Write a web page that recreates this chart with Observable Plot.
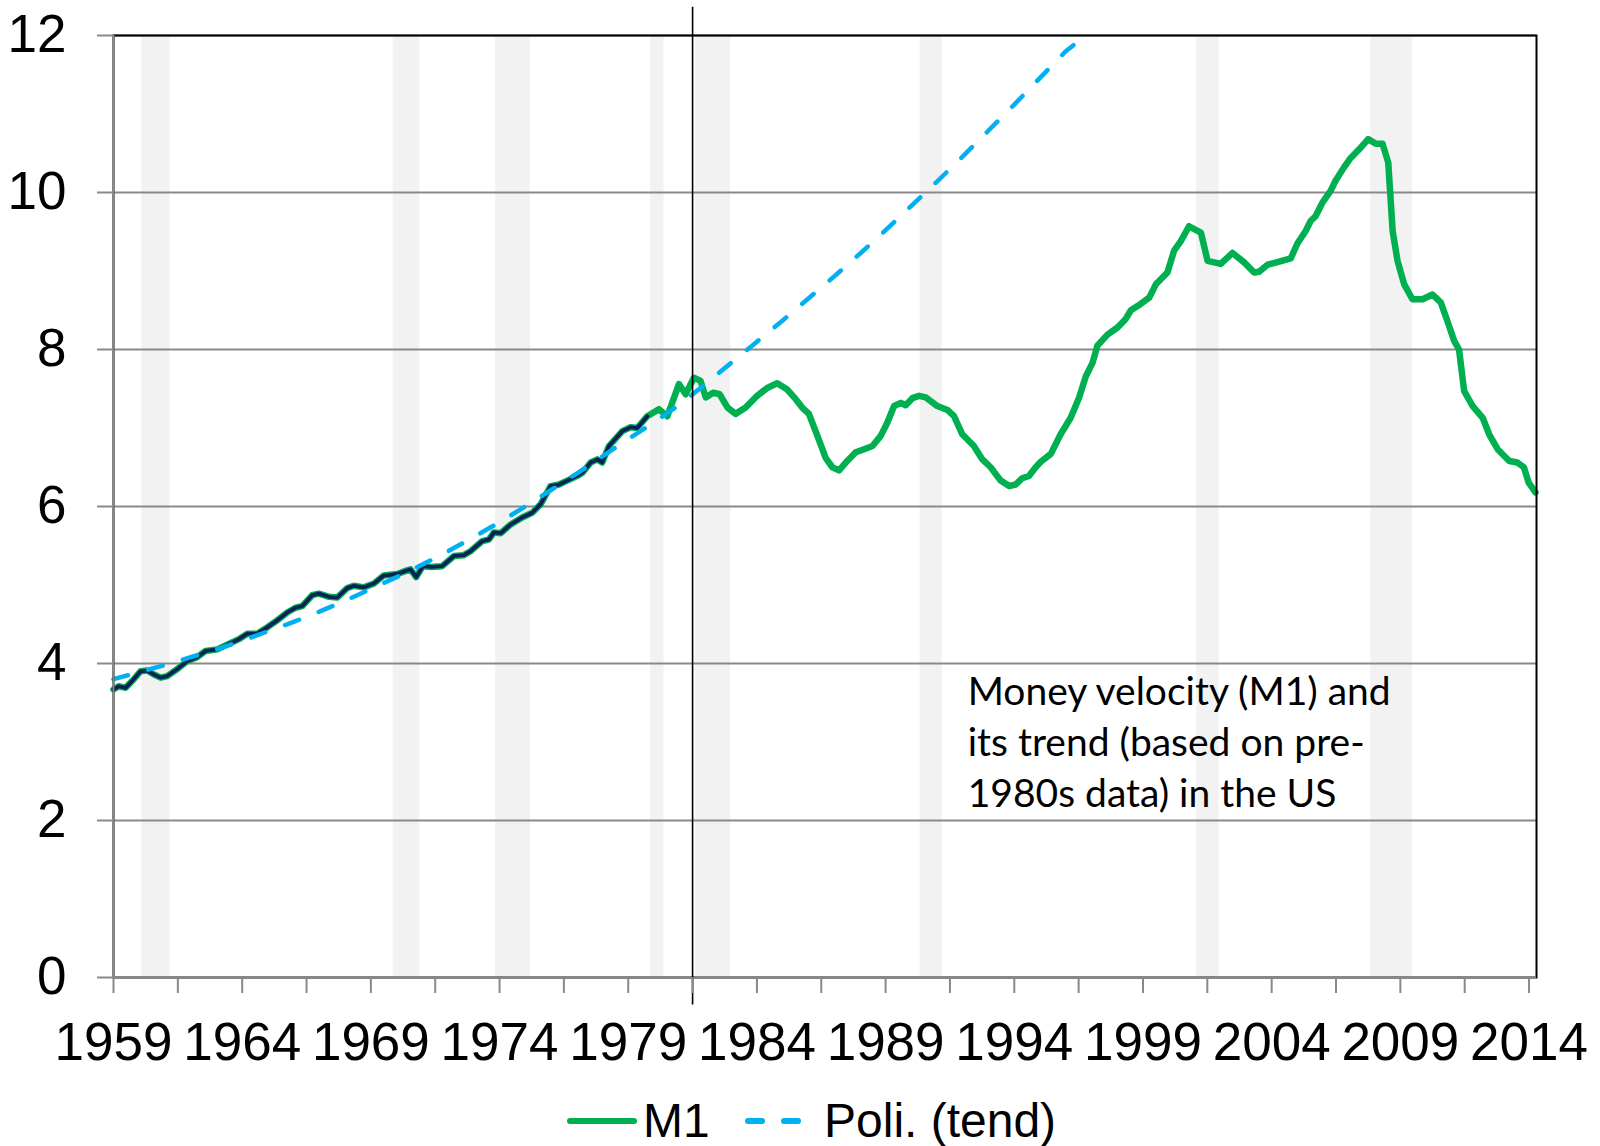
<!DOCTYPE html>
<html>
<head>
<meta charset="utf-8">
<script src="https://cdn.jsdelivr.net/npm/d3@7"></script>
<script src="https://cdn.jsdelivr.net/npm/@observablehq/plot@0.6"></script>
<style>
  html, body { margin: 0; padding: 0; background: #ffffff; }
  #chart { width: 1600px; }
  #legend { width: 1600px; height: 61px; display: block; }
</style>
</head>
<body>
<div id="chart"></div>
<svg id="legend" width="1600" height="61"></svg>
<script>
// ---- Data ----
const m1Years = [
  1959.00,1959.20,1959.47,1959.73,1960.05,1960.31,1960.57,1960.83,1961.09,1961.48,
  1961.86,1962.25,1962.58,1963.03,1963.42,1963.87,1964.20,1964.58,1964.97,1965.36,
  1965.75,1966.07,1966.33,1966.72,1966.98,1967.37,1967.69,1968.08,1968.34,1968.73,
  1969.12,1969.50,1970.03,1970.35,1970.54,1970.76,1971.02,1971.35,1971.77,1972.23,
  1972.61,1972.87,1973.33,1973.59,1973.78,1974.04,1974.43,1974.88,1975.27,1975.60,
  1975.98,1976.31,1976.63,1977.02,1977.22,1977.54,1977.80,1977.99,1978.25,1978.44,
  1978.77,1979.09,1979.35,1979.74,1980.19,1980.52,1980.97,1981.23,1981.55,1981.81,
  1982.01,1982.30,1982.55,1982.86,1983.17,1983.56,1984.01,1984.40,1984.79,1985.18,
  1985.50,1985.76,1986.02,1986.35,1986.67,1986.93,1987.19,1987.51,1987.84,1988.16,
  1988.49,1988.81,1989.07,1989.33,1989.59,1989.78,1990.04,1990.30,1990.56,1991.01,
  1991.40,1991.66,1991.98,1992.43,1992.76,1993.08,1993.47,1993.80,1994.05,1994.31,
  1994.57,1994.83,1995.03,1995.42,1995.80,1996.19,1996.52,1996.78,1997.04,1997.23,
  1997.62,1998.01,1998.33,1998.53,1998.91,1999.24,1999.50,1999.95,2000.21,2000.47,
  2000.79,2001.25,2001.51,2002.02,2002.48,2002.93,2003.32,2003.51,2003.84,2004.29,
  2004.74,2005.00,2005.32,2005.52,2005.71,2005.97,2006.29,2006.48,2006.81,2007.07,
  2007.40,2007.75,2008.05,2008.31,2008.53,2008.70,2008.89,2009.15,2009.47,2009.86,
  2010.25,2010.57,2010.83,2011.09,2011.28,2011.48,2011.81,2012.20,2012.45,2012.78,
  2013.23,2013.55,2013.80,2013.99,2014.25
];
const m1Values = [
  3.67,3.71,3.69,3.78,3.90,3.91,3.86,3.82,3.84,3.93,
  4.03,4.08,4.16,4.18,4.24,4.31,4.38,4.38,4.46,4.55,
  4.65,4.71,4.73,4.87,4.89,4.85,4.84,4.96,4.99,4.97,
  5.02,5.12,5.14,5.18,5.20,5.10,5.24,5.23,5.24,5.37,
  5.38,5.43,5.56,5.58,5.67,5.66,5.77,5.86,5.92,6.03,
  6.26,6.28,6.33,6.39,6.43,6.56,6.60,6.56,6.77,6.84,
  6.96,7.01,7.00,7.15,7.24,7.15,7.56,7.43,7.64,7.60,
  7.39,7.45,7.43,7.26,7.18,7.26,7.41,7.51,7.57,7.49,
  7.37,7.26,7.18,6.90,6.62,6.50,6.46,6.58,6.69,6.73,
  6.77,6.90,7.07,7.28,7.32,7.29,7.38,7.41,7.39,7.28,
  7.23,7.15,6.92,6.77,6.60,6.50,6.33,6.26,6.28,6.36,
  6.39,6.50,6.57,6.67,6.92,7.13,7.39,7.66,7.83,8.05,
  8.19,8.28,8.39,8.50,8.58,8.66,8.83,8.98,9.26,9.38,
  9.57,9.49,9.13,9.09,9.23,9.11,8.98,8.99,9.08,9.12,
  9.16,9.35,9.51,9.64,9.70,9.87,10.02,10.15,10.32,10.44,
  10.55,10.68,10.62,10.62,10.38,9.51,9.13,8.83,8.64,8.64,
  8.70,8.60,8.36,8.11,8.00,7.47,7.28,7.13,6.92,6.73,
  6.58,6.56,6.50,6.30,6.18
];
// last observation of the pre-1980s sample used for the trend fit
const fitEndYear = 1979.74;

// polynomial trend ("Poli. (tend)")
const trendYears = [1959,1960,1961,1962,1963,1964,1965,1966,1967,1968,1969,1970,1971,1972,1973,
  1974,1975,1976,1977,1978,1979,1980,1981,1982,1983,1984,1985,1986,1987,1988,1989,1990,1991,
  1992,1993,1994,1995,1996,1996.78];
const trendValues = [3.80,3.89,3.98,4.08,4.18,4.29,4.41,4.53,4.66,4.80,4.95,5.10,5.26,5.43,5.61,
  5.80,6.00,6.21,6.42,6.64,6.86,7.07,7.30,7.56,7.83,8.10,8.37,8.65,8.93,9.22,9.52,9.83,10.14,
  10.46,10.79,11.12,11.46,11.80,12.0];

// recession bands (start, end) in years
const recessionStart = [1960.10, 1969.87, 1973.85, 1979.87, 1981.62, 1990.34, 2001.09, 2007.85];
const recessionEnd   = [1961.20, 1970.90, 1975.20, 1980.39, 1982.98, 1991.20, 2001.96, 2009.47];

// axes
const yTicks = [0, 2, 4, 6, 8, 10, 12];
const xTickLabels = [1959, 1964, 1969, 1974, 1979, 1984, 1989, 1994, 1999, 2004, 2009, 2014];
const xTickMarks = d3.range(0, 23).map(i => 1959 + i * 2.5);
const dividerYear = 1981.5;

const annotationText = "Money velocity (M1) and\nits trend (based on pre-\n1980s data) in the US";
const legendLabels = ["M1", "Poli. (tend)"];

// ---- Build tables ----
const m1 = m1Years.map((year, i) => ({year, value: m1Values[i]}));
const m1Fit = m1.filter(d => d.year <= fitEndYear);
const trend = trendYears.map((year, i) => ({year, value: trendValues[i]}));
const recessions = recessionStart.map((s, i) => ({start: s, end: recessionEnd[i]}));

const GREEN = "#00b050", NAVY = "#0b1f5a", BLUE = "#00b0f0", GRID = "#898989";

const chart = Plot.plot({
  width: 1600,
  height: 1085,
  marginLeft: 113,
  marginRight: 64,
  marginTop: 35,
  marginBottom: 108,
  x: {domain: [1959, 2014.29], axis: null},
  y: {domain: [0, 12], axis: null},
  style: {fontFamily: "'Liberation Sans', Arial, sans-serif", background: "#ffffff", overflow: "visible", color: "#000"},
  marks: [
    Plot.rect(recessions, {x1: "start", x2: "end", y1: 0, y2: 12, fill: "#f2f2f2"}),
    Plot.ruleY(yTicks.filter(d => d > 0), {stroke: GRID, strokeWidth: 2}),
    Plot.line(m1, {x: "year", y: "value", stroke: GREEN, strokeWidth: 6.5, strokeLinejoin: "round", strokeLinecap: "round"}),
    Plot.line(m1Fit, {x: "year", y: "value", stroke: NAVY, strokeWidth: 3.8, strokeLinejoin: "round"}),
    Plot.line(trend, {x: "year", y: "value", stroke: BLUE, strokeWidth: 4.5, strokeDasharray: "15,21", strokeLinecap: "round"}),
    Plot.frame({stroke: "#000", strokeWidth: 2}),
    Plot.ruleY([0], {stroke: GRID, strokeWidth: 2.5}),
    Plot.ruleX([1959], {stroke: GRID, strokeWidth: 2}),
    Plot.ruleX([dividerYear], {y1: -0.35, y2: 12.36, stroke: "#000", strokeWidth: 1.6}),
    Plot.axisY({ticks: yTicks, tickSize: 16, tickPadding: 31, fontSize: 53, stroke: GRID, strokeWidth: 2, fill: "#000", label: null, tickFormat: d => String(d)}),
    Plot.axisX({ticks: xTickMarks, tickSize: 16, stroke: GRID, strokeWidth: 2, label: null, tickFormat: () => ""}),
    Plot.axisX({ticks: xTickLabels, tickSize: 0, tickPadding: 45, fontSize: 53, fill: "#000", label: null, tickFormat: d => String(d)}),
    Plot.text([annotationText], {x: 1992.19, y: 3.93, text: d => d, textAnchor: "start", lineAnchor: "top",
      lineHeight: 1.31, fontSize: 39, fontFamily: "Lato, 'Open Sans', sans-serif", fill: "#000"})
  ]
});
document.getElementById("chart").appendChild(chart);

// ---- Legend (below the plot) ----
const lg = d3.select("#legend");
lg.append("line").attr("x1", 570).attr("x2", 634).attr("y1", 36).attr("y2", 36)
  .attr("stroke", GREEN).attr("stroke-width", 6).attr("stroke-linecap", "round");
lg.append("text").attr("x", 643).attr("y", 52).text(legendLabels[0])
  .attr("font-family", "'Liberation Sans', Arial, sans-serif").attr("font-size", 48).attr("fill", "#000");
lg.append("line").attr("x1", 748).attr("x2", 798).attr("y1", 36).attr("y2", 36)
  .attr("stroke", BLUE).attr("stroke-width", 6).attr("stroke-linecap", "round")
  .attr("stroke-dasharray", "14,22");
lg.append("text").attr("x", 824).attr("y", 52).text(legendLabels[1])
  .attr("font-family", "'Liberation Sans', Arial, sans-serif").attr("font-size", 48).attr("fill", "#000");
</script>
</body>
</html>
